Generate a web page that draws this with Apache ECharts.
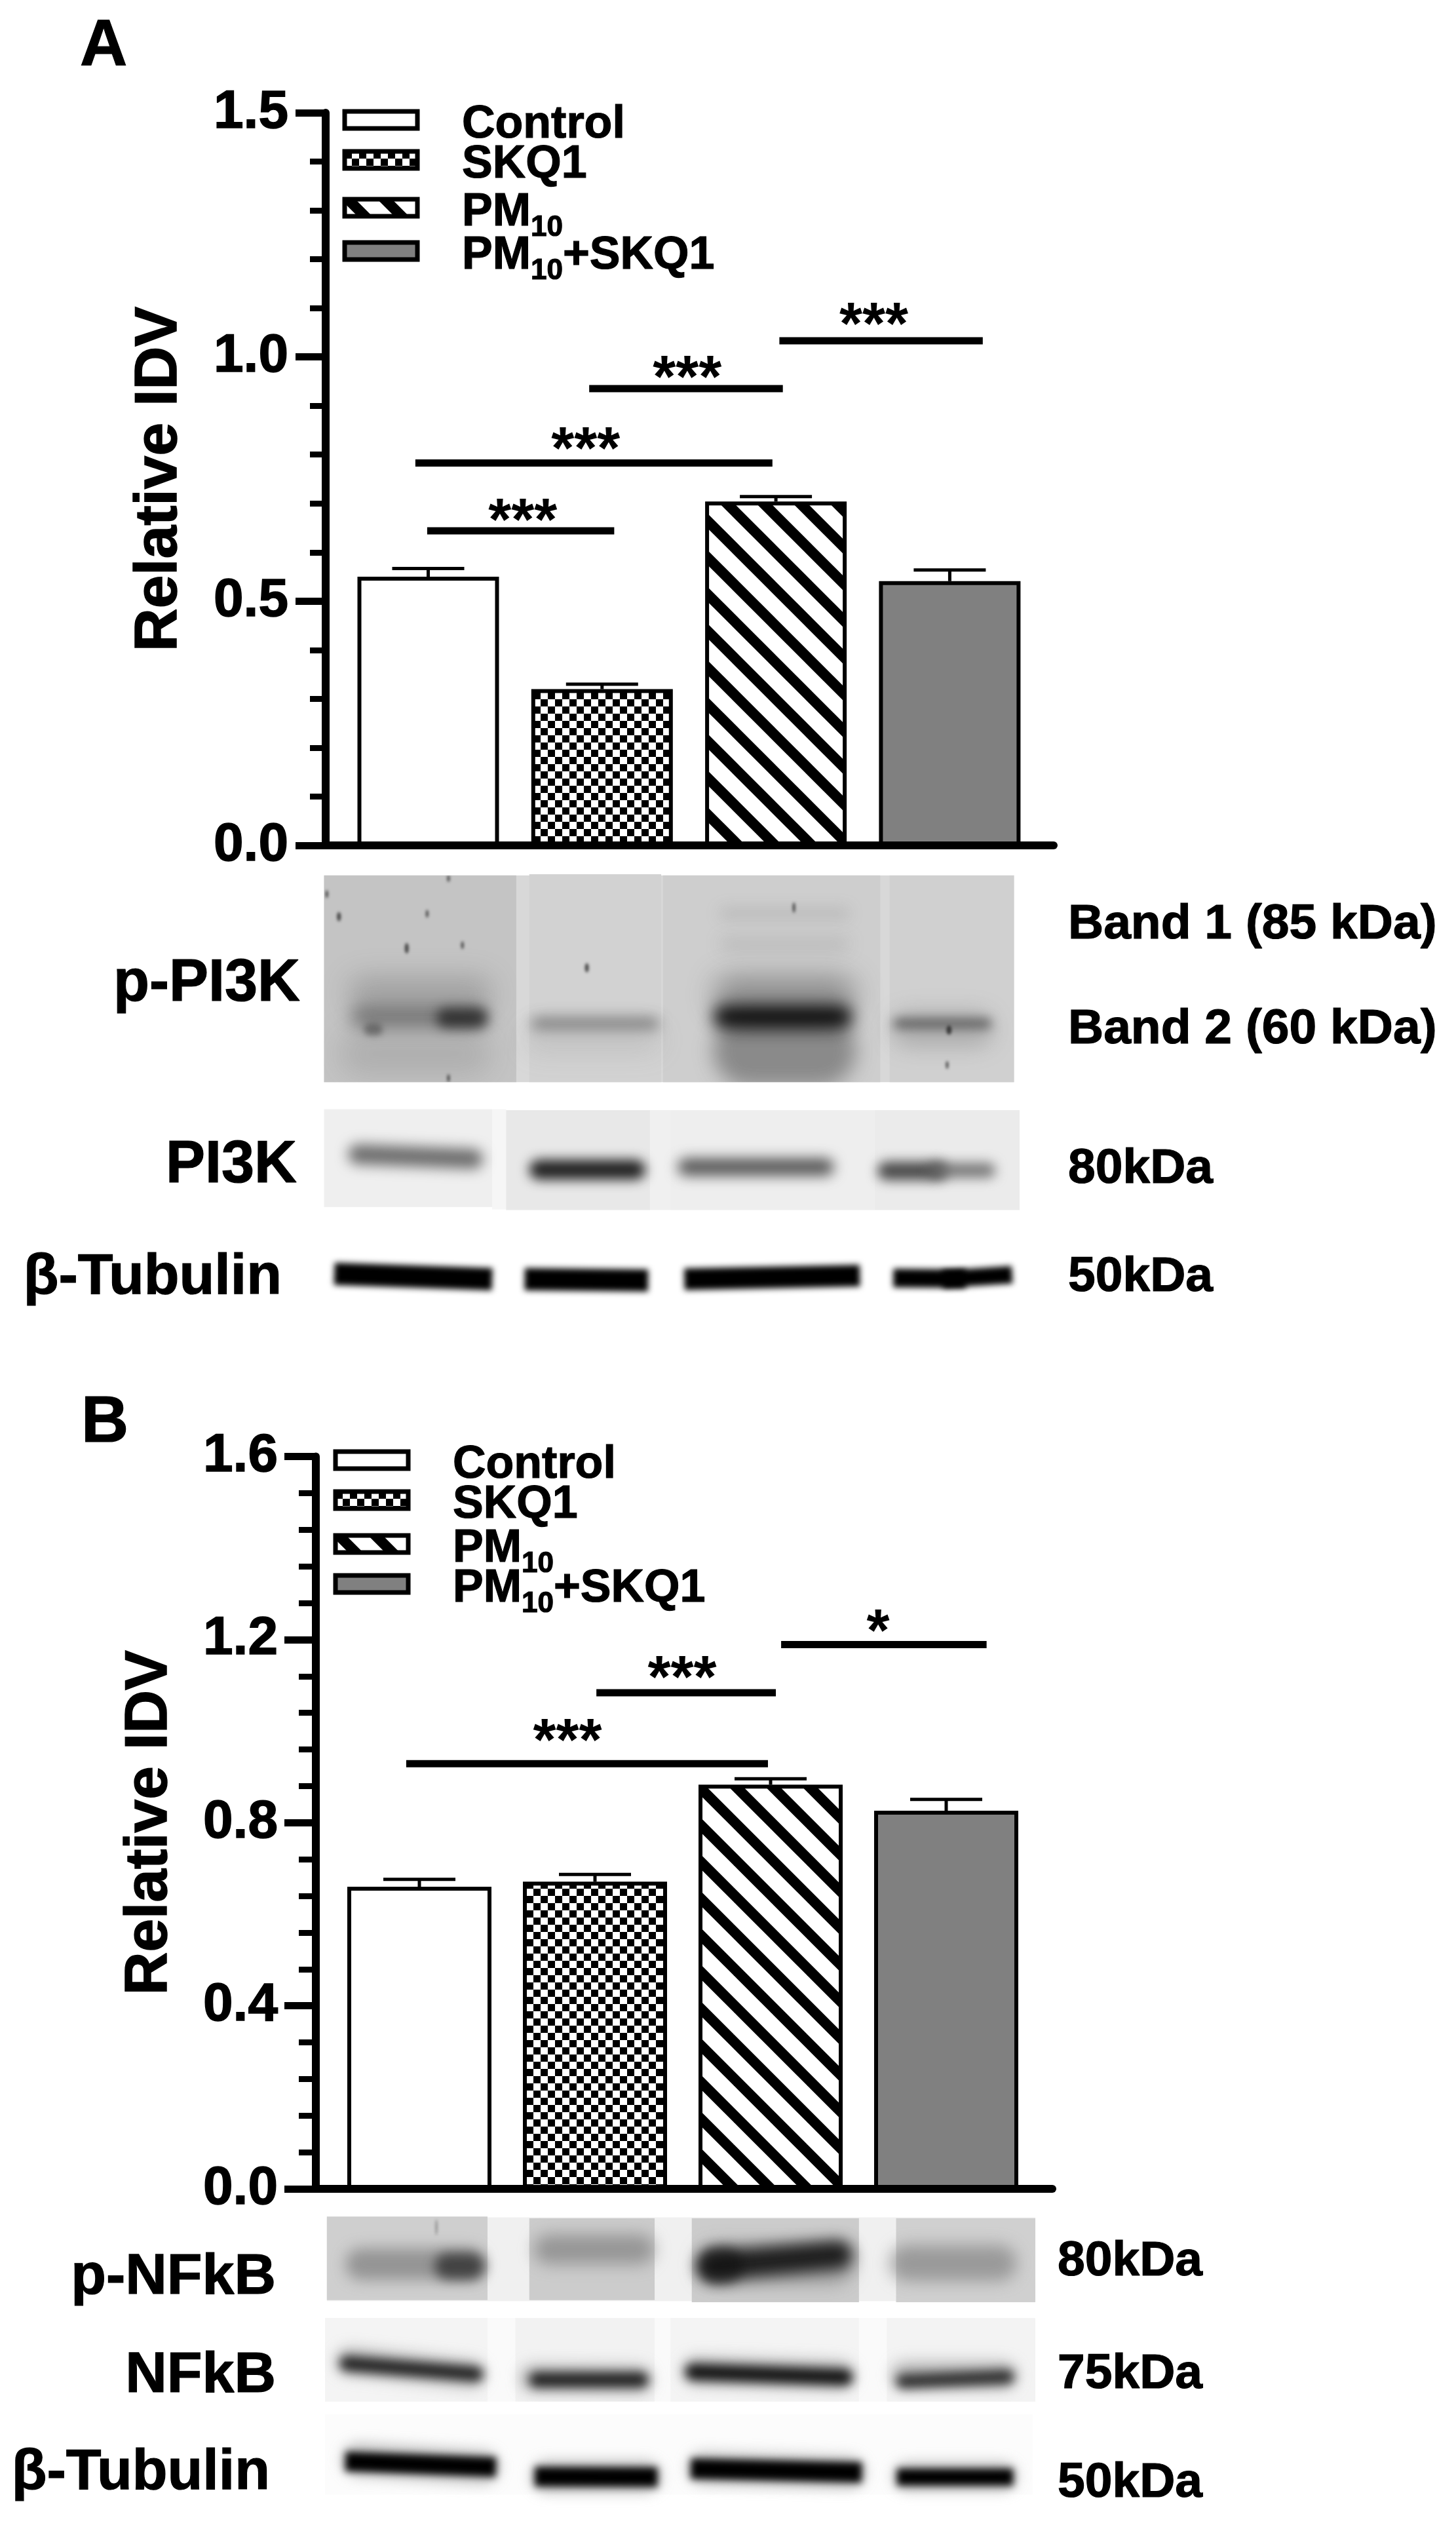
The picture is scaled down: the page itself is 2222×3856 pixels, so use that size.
<!DOCTYPE html>
<html><head><meta charset="utf-8">
<style>html,body{margin:0;padding:0;background:#fff}#c{width:2222px;height:3856px}</style>
<script src="https://cdn.jsdelivr.net/npm/echarts@6/dist/echarts.min.js"></script>
</head><body><div id="c"></div>
<script>
const groups = ['Control', 'SKQ1', 'PM10', 'PM10+SKQ1'];
const valuesA = [0.550, 0.320, 0.704, 0.541];
const capsA = [0.567, 0.330, 0.714, 0.564];
const valuesB = [0.660, 0.671, 0.883, 0.826];
const capsB = [0.676, 0.687, 0.896, 0.851];
const ticksA = { min: 0, max: 1.5, interval: 0.5 };
const ticksB = { min: 0, max: 1.6, interval: 0.4 };
// [from group, to group, bar height, star x, star height, stars]
const sigA = [
  [-0.006, 1.07, 0.644, 0.544, 0.686, '***'],
  [-0.074, 1.98, 0.783, 0.906, 0.831, '***'],
  [0.926, 2.04, 0.935, 1.49, 0.978, '***'],
  [2.02, 3.19, 1.033, 2.563, 1.087, '***']
];
const sigB = [
  [-0.075, 1.985, 0.929, 0.843, 1.001, '***'],
  [1.008, 2.03, 1.084, 1.496, 1.138, '***'],
  [2.06, 3.23, 1.189, 2.612, 1.240, '*']
];

const FONT = '"Liberation Sans", Arial, sans-serif';

function tile(size, draw) {
  const c = document.createElement('canvas');
  c.width = c.height = size;
  const x = c.getContext('2d');
  x.fillStyle = '#fff'; x.fillRect(0, 0, size, size);
  x.fillStyle = '#000'; x.strokeStyle = '#000';
  draw(x, size);
  return c;
}
const checker = tile(22, (x) => { x.fillRect(0, 0, 11, 11); x.fillRect(11, 11, 11, 11); });
function stripes(off) {
  return tile(56, (x, s) => {
    x.lineWidth = 15.8;
    for (let k = -3; k <= 3; k++) {
      x.beginPath(); x.moveTo(off + k * s - s, -s); x.lineTo(off + k * s + 2 * s, 2 * s); x.stroke();
    }
  });
}
const patImg = (im) => ({ image: im, repeat: 'repeat' });
const fills = (off) => ['#ffffff', patImg(checker), patImg(stripes(off)), '#808080'];

/* ---------- western-blot photographs painted on a backdrop canvas ---------- */
const blotCanvas = document.createElement('canvas');
blotCanvas.width = 2222; blotCanvas.height = 3856;
const g = blotCanvas.getContext('2d');
const KX = 2222 / 1568;
function painter(y0, ky) {
  const X = (z) => z * KX, Y = (z) => y0 + z * ky;
  return {
    rect(x0, x1, t, b, col) { g.filter = 'none'; g.fillStyle = col; g.fillRect(X(x0), Y(t), X(x1) - X(x0), Y(b) - Y(t)); },
    band(x0, x1, yl, yr, h, col, blur, cap) {
      const hp = h * ky;
      g.filter = `blur(${blur}px)`;
      g.strokeStyle = col; g.lineCap = cap || 'round'; g.lineWidth = hp;
      const r = cap ? 0 : hp / 2;
      g.beginPath(); g.moveTo(X(x0) + r, Y(yl)); g.lineTo(Math.max(X(x1) - r, X(x0) + r + 1), Y(yr)); g.stroke();
      g.filter = 'none';
    },
    spot(x, y, rx, ry, col) {
      g.filter = 'blur(2px)'; g.fillStyle = col;
      g.beginPath(); g.ellipse(X(x), Y(y), rx, ry, 0, 0, Math.PI * 2); g.fill(); g.filter = 'none';
    },
    clip(x0, x1, t, b, fn) {
      g.save(); g.beginPath(); g.rect(X(x0), Y(t), X(x1) - X(x0), Y(b) - Y(t)); g.clip(); fn(); g.restore();
    }
  };
}
// Panel A blots
const a = painter(1300, 720 / 1568);
a.rect(349, 1092, 78, 765, '#d8d8d8');
a.rect(349, 556, 78, 765, '#c4c4c4');
a.rect(570, 712, 74, 765, '#d2d2d2');
a.rect(714, 948, 78, 765, '#cecece');
a.rect(958, 1092, 78, 765, '#d0d0d0');
a.clip(349, 1092, 78, 765, () => {
  a.band(375, 530, 470, 470, 110, 'rgba(70,70,70,.28)', 20);
  a.band(365, 530, 670, 670, 150, 'rgba(90,90,90,.2)', 22);
  a.band(378, 525, 548, 548, 75, 'rgba(70,70,70,.55)', 13);
  a.band(470, 525, 552, 552, 65, 'rgba(25,25,25,.75)', 9);
  a.band(392, 412, 590, 590, 40, 'rgba(60,60,60,.5)', 5);
  a.band(572, 710, 570, 570, 44, 'rgba(85,85,85,.6)', 10);
  a.band(565, 712, 625, 625, 90, 'rgba(120,120,120,.16)', 18);
  a.band(768, 922, 660, 660, 240, 'rgba(70,70,70,.5)', 15);
  a.band(768, 922, 475, 475, 130, 'rgba(60,60,60,.42)', 20);
  a.band(768, 918, 548, 548, 80, 'rgba(5,5,5,.92)', 12);
  a.band(775, 915, 205, 205, 36, 'rgba(110,110,110,.22)', 11);
  a.band(775, 915, 305, 305, 44, 'rgba(110,110,110,.2)', 12);
  a.band(960, 1070, 590, 590, 120, 'rgba(90,90,90,.28)', 16);
  a.band(962, 1068, 570, 570, 36, 'rgba(55,55,55,.62)', 8);
  [[365, 215, 3, 7], [438, 320, 3, 8], [460, 205, 2, 6], [498, 310, 2, 6], [632, 385, 3, 7], [483, 88, 2, 5], [483, 752, 2, 6], [855, 185, 2, 8], [1022, 592, 4, 7], [1020, 708, 2, 6], [352, 140, 2, 6]]
    .forEach((s) => a.spot(s[0], s[1], s[2], s[3], 'rgba(30,30,30,.75)'));
});
a.rect(349, 530, 855, 1180, '#efefef');
a.rect(530, 545, 855, 1188, '#f6f6f6');
a.rect(545, 700, 858, 1190, '#e8e8e8');
a.rect(700, 722, 858, 1190, '#f0f0f0');
a.rect(722, 942, 858, 1190, '#eeeeee');
a.rect(942, 1098, 858, 1190, '#ebebeb');
a.band(375, 520, 1005, 1020, 66, 'rgba(85,85,85,.85)', 10);
a.band(570, 695, 1056, 1056, 66, 'rgba(15,15,15,.92)', 9);
a.band(730, 898, 1047, 1047, 58, 'rgba(60,60,60,.85)', 10);
a.band(945, 1020, 1060, 1060, 62, 'rgba(45,45,45,.85)', 9);
a.band(1000, 1072, 1058, 1058, 50, 'rgba(100,100,100,.85)', 9);
a.band(360, 530, 1402, 1420, 74, '#000', 5, 'butt');
a.band(565, 698, 1420, 1424, 74, '#000', 5, 'butt');
a.band(737, 926, 1420, 1408, 72, '#000', 5, 'butt');
a.band(962, 1040, 1416, 1418, 62, '#000', 5, 'butt');
a.band(1015, 1090, 1420, 1405, 58, '#000', 5, 'butt');
// Panel B blots
const b = painter(3350, 506 / 1568);
b.rect(352, 1115, 104, 500, '#f0f0f0');
b.rect(352, 525, 100, 495, '#cfcfcf');
b.rect(570, 705, 108, 495, '#cccccc');
b.rect(745, 925, 108, 505, '#cccccc');
b.rect(965, 1115, 108, 505, '#d0d0d0');
b.clip(352, 1115, 100, 505, () => {
  b.band(372, 522, 325, 325, 150, 'rgba(100,100,100,.55)', 11);
  b.band(468, 522, 335, 335, 125, 'rgba(35,35,35,.72)', 9);
  b.band(575, 705, 255, 255, 140, 'rgba(105,105,105,.55)', 12);
  b.band(750, 920, 325, 325, 190, 'rgba(90,90,90,.4)', 14);
  b.band(752, 918, 335, 280, 135, 'rgba(15,15,15,.9)', 11);
  b.band(752, 800, 330, 330, 170, 'rgba(15,15,15,.6)', 9);
  b.band(958, 1095, 320, 320, 170, 'rgba(110,110,110,.55)', 12);
  b.spot(470, 150, 1.5, 12, 'rgba(90,90,90,.6)');
});
b.rect(350, 1115, 580, 975, '#fafafa');
b.rect(350, 525, 580, 975, '#f4f4f4');
b.rect(555, 705, 580, 975, '#f2f2f2');
b.rect(722, 925, 580, 975, '#f4f4f4');
b.rect(955, 1115, 580, 975, '#f3f3f3');
b.clip(350, 1115, 580, 975, () => {
  b.band(362, 522, 785, 845, 125, 'rgba(120,120,120,.5)', 11);
  b.band(366, 520, 795, 845, 68, 'rgba(20,20,20,.92)', 8);
  b.band(560, 702, 865, 870, 125, 'rgba(120,120,120,.5)', 11);
  b.band(570, 698, 872, 872, 70, 'rgba(20,20,20,.92)', 8);
  b.band(735, 920, 830, 850, 130, 'rgba(120,120,120,.5)', 11);
  b.band(738, 918, 835, 860, 76, 'rgba(10,10,10,.95)', 8);
  b.band(960, 1095, 850, 850, 125, 'rgba(120,120,120,.5)', 11);
  b.band(965, 1092, 880, 858, 66, 'rgba(30,30,30,.9)', 8);
});
b.rect(350, 1112, 1035, 1415, '#fcfcfc');
b.band(368, 538, 1250, 1285, 155, 'rgba(130,130,130,.5)', 10);
b.band(372, 534, 1258, 1285, 92, '#000', 6, 'butt');
b.band(572, 712, 1330, 1330, 150, 'rgba(130,130,130,.5)', 10);
b.band(576, 708, 1330, 1332, 92, '#000', 6, 'butt');
b.band(740, 932, 1290, 1310, 150, 'rgba(130,130,130,.5)', 10);
b.band(744, 928, 1292, 1310, 96, '#000', 6, 'butt');
b.band(962, 1095, 1330, 1330, 135, 'rgba(130,130,130,.5)', 10);
b.band(966, 1091, 1332, 1332, 80, '#000', 6, 'butt');

/* ---------- panels ---------- */
function text(t, x, y, size, align) {
  return { type: 'text', z: 10, style: { x, y, text: t, font: `bold ${size}px ${FONT}`, fill: '#000', stroke: '#000', lineWidth: 1.2, align: align || 'left', verticalAlign: 'middle' } };
}
const graphics = [
  { type: 'image', z: -1, silent: true, style: { image: blotCanvas, x: 0, y: 0, width: 2222, height: 3856 } },
  text('A', 122, 72, 100),
  text('B', 124, 2172, 100),
  text('p-PI3K', 458, 1502, 90, 'right'),
  text('PI3K', 453, 1779, 90, 'right'),
  text('β-Tubulin', 430, 1950, 88, 'right'),
  text('Band 1 (85 kDa)', 1630, 1411, 75),
  text('Band 2 (60 kDa)', 1630, 1571, 75),
  text('80kDa', 1630, 1784, 75),
  text('50kDa', 1630, 1949, 75),
  text('p-NFkB', 421, 3476, 88, 'right'),
  text('NFkB', 421, 3626, 88, 'right'),
  text('β-Tubulin', 412, 3774, 88, 'right'),
  text('80kDa', 1614, 3451, 75),
  text('75kDa', 1614, 3623, 75),
  text('50kDa', 1614, 3789, 75)
];

const grids = [], xAxes = [], yAxes = [], series = [], legends = [];
function panel(idx, cfg) {
  grids.push({ left: cfg.left, top: cfg.top, width: cfg.right - cfg.left, height: cfg.bottom - cfg.top, containLabel: false });
  xAxes.push({
    gridIndex: idx, type: 'value', min: (cfg.left - cfg.c0) / cfg.step, max: (cfg.right - cfg.c0) / cfg.step,
    splitLine: { show: false }, axisTick: { show: false }, axisLabel: { show: false }, z: 5,
    axisLine: { show: true, onZero: false, lineStyle: { color: '#000', width: 12 } }
  });
  yAxes.push({
    gridIndex: idx, type: 'value', min: cfg.ticks.min, max: cfg.ticks.max, interval: cfg.ticks.interval, z: 6,
    name: 'Relative IDV', nameLocation: 'middle', nameRotate: 90, nameGap: cfg.nameGap,
    nameTextStyle: { fontFamily: FONT, fontWeight: 'bold', fontSize: 91, color: '#000', textBorderColor: '#000', textBorderWidth: 1.5 },
    splitLine: { show: false },
    axisLine: { show: true, onZero: false, lineStyle: { color: '#000', width: 12 } },
    axisTick: { show: true, length: cfg.tick, lineStyle: { color: '#000', width: 11 } },
    minorTick: { show: true, splitNumber: 5, length: cfg.minor, lineStyle: { color: '#000', width: 9 } },
    axisLabel: { margin: cfg.margin, fontFamily: FONT, fontWeight: 'bold', fontSize: 82, color: '#000', textBorderColor: '#000', textBorderWidth: 1.5, padding: [6, 0, 0, 0], formatter: (v) => v.toFixed(1) }
  });
  const fl = fills(cfg.off);
  groups.forEach((name, i) => {
    series.push({
      type: 'bar', name, xAxisIndex: idx, yAxisIndex: idx, barWidth: cfg.barW, barGap: '-100%', z: 2,
      itemStyle: { color: fl[i], borderColor: '#000', borderWidth: 6 },
      data: [[i, cfg.values[i]]], animation: false, silent: true, clip: false
    });
  });
  series.push({
    type: 'custom', xAxisIndex: idx, yAxisIndex: idx, z: 3, silent: true, animation: false, clip: false,
    encode: { x: 0, y: [1, 2] },
    data: cfg.values.map((v, i) => [i, v, cfg.caps[i]]),
    renderItem(p, api) {
      const a0 = api.coord([api.value(0), api.value(1)]), a1 = api.coord([api.value(0), api.value(2)]);
      const st = { stroke: '#000', lineWidth: 5 };
      return { type: 'group', children: [
        { type: 'line', shape: { x1: a0[0], y1: a0[1], x2: a1[0], y2: a1[1] }, style: st },
        { type: 'line', shape: { x1: a1[0] - 55, y1: a1[1], x2: a1[0] + 55, y2: a1[1] }, style: st }
      ] };
    }
  });
  series.push({
    type: 'custom', xAxisIndex: idx, yAxisIndex: idx, z: 4, silent: true, animation: false, clip: false,
    encode: { x: [0, 1], y: 2 },
    data: cfg.sig.map((s) => s.slice(0, 5)),
    renderItem(p, api) {
      const l = api.coord([api.value(0), api.value(2)]), r = api.coord([api.value(1), api.value(2)]);
      const st = api.coord([api.value(3), api.value(4)]);
      return { type: 'group', children: [
        { type: 'line', shape: { x1: l[0], y1: l[1], x2: r[0], y2: r[1] }, style: { stroke: '#000', lineWidth: 11 } },
        { type: 'text', style: { x: st[0], y: st[1] + 20, text: cfg.sig[p.dataIndex][5], font: `bold 90px ${FONT}`, fill: '#000', align: 'center', verticalAlign: 'middle' } }
      ] };
    }
  });
  groups.forEach((name, i) => {
    legends.push({
      data: [name], left: cfg.legL, top: cfg.legY[i] - 53, padding: 0, selectedMode: false,
      icon: 'rect', itemWidth: 111, itemHeight: 26, itemStyle: { borderColor: '#000', borderWidth: 7 },
      formatter: (n) => '{g|}' + n.replace('10', '{sub|10}'),
      textStyle: {
        fontFamily: FONT, fontWeight: 'bold', fontSize: 70, color: '#000', lineHeight: 90,
        textBorderColor: '#000', textBorderWidth: 1.2, padding: [16, 0, 0, 0],
        rich: {
          g: { width: cfg.legGap, lineHeight: 90 },
          sub: { fontFamily: FONT, fontWeight: 'bold', fontSize: 44, color: '#000', lineHeight: 44, verticalAlign: 'bottom' }
        }
      }
    });
  });
}
panel(0, { left: 497, right: 1608, top: 172, bottom: 1290, c0: 653.5, step: 265.3, barW: 216, ticks: ticksA, values: valuesA, caps: capsA, sig: sigA, off: 5, tick: 46, minor: 24, margin: 57, nameGap: 208, legL: 522.5, legY: [183, 244, 317, 383], legGap: 63 });
panel(1, { left: 482, right: 1606, top: 2222.5, bottom: 3340, c0: 640, step: 268, barW: 220, ticks: ticksB, values: valuesB, caps: capsB, sig: sigB, off: 20.6, tick: 48, minor: 26, margin: 58, nameGap: 208, legL: 508.5, legY: [2228, 2289, 2356, 2417], legGap: 63 });

const chart = echarts.init(document.getElementById('c'), null, { renderer: 'canvas', width: 2222, height: 3856 });
chart.setOption({
  animation: false, backgroundColor: '#fff',
  grid: grids, xAxis: xAxes, yAxis: yAxes, series, legend: legends, graphic: graphics
});
</script></body></html>
